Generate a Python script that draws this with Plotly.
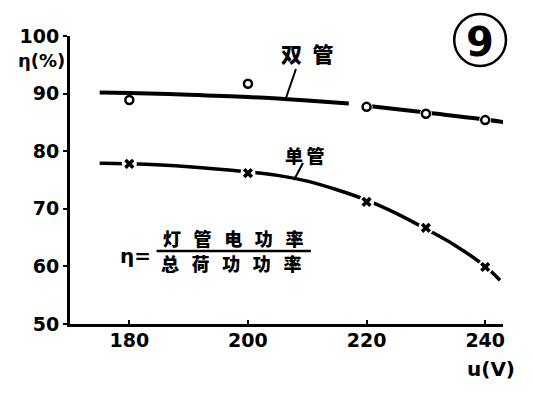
import plotly.graph_objects as go

# ---- data ----
volts = [180, 200, 220, 230, 240]
eff_double = [88.9, 91.7, 87.7, 86.5, 85.4]
eff_single = [77.8, 76.2, 71.2, 66.7, 59.9]

curve_double_x = [175, 180, 190, 200, 210, 217, None, 220, 230, 240, 244]
curve_double_y = [90.2, 90.1, 89.8, 89.4, 88.8, 88.3, None, 87.9, 86.7, 85.5, 84.9]

curve_single_x = [175, 180, 190, 200, 205, 210, 215, 220, 225, 230, 235, 240, 242.5]
curve_single_y = [77.9, 77.8, 77.3, 76.4, 75.8, 74.8, 73.3, 71.5, 69.2, 66.5, 63.6, 60.0, 57.6]

x_ticks = [180, 200, 220, 240]
y_ticks = [50, 60, 70, 80, 90, 100]

# page body adds an 8px offset; work in target-image pixels
OFF = 8
W, H = 533, 394
L, T = 68 - OFF, 36 - OFF
R = W - (503 - OFF)
B = H - (324 - OFF)
PW, PH = W - L - R, H - T - B


def px(x):
    return (x - OFF - L) / PW


def py(y):
    return (H - B - (y - OFF)) / PH


NUM = "DejaVu Sans"
CJK = "Noto Sans CJK SC"

fig = go.Figure()

# curves
fig.add_trace(go.Scatter(x=curve_double_x, y=curve_double_y, mode="lines",
                         line=dict(color="black", width=4, shape="spline"),
                         connectgaps=False, hoverinfo="skip"))
fig.add_trace(go.Scatter(x=curve_single_x, y=curve_single_y, mode="lines",
                         line=dict(color="black", width=3.5, shape="spline"),
                         hoverinfo="skip"))
# white gaps around markers
fig.add_trace(go.Scatter(x=volts, y=eff_single, mode="markers",
                         marker=dict(symbol="circle", size=15, color="white",
                                     line=dict(width=0)), hoverinfo="skip"))
fig.add_trace(go.Scatter(x=volts[2:], y=eff_double[2:], mode="markers",
                         marker=dict(symbol="circle", size=12, color="white",
                                     line=dict(width=0)), hoverinfo="skip"))
# markers
fig.add_trace(go.Scatter(x=volts, y=eff_double, mode="markers",
                         marker=dict(symbol="circle", size=8, color="white",
                                     line=dict(color="black", width=2.5))))
fig.add_trace(go.Scatter(x=volts, y=eff_single, mode="markers",
                         marker=dict(symbol="x", size=9, color="black",
                                     line=dict(width=0))))

ann = []
def add_text(text, x, y, size, family=NUM, weight="bold"):
    ann.append(dict(text=text, x=px(x), y=py(y), xref="paper", yref="paper",
                    showarrow=False, xanchor="center", yanchor="middle",
                    font=dict(family=family, size=size, color="black", weight=weight)))

add_text("η(%)", 39, 60, 18)
add_text("u(V)", 491, 369, 20)
add_text("双\u2002管", 307, 53, 21, CJK, 900)
add_text("单\u2009管", 304, 155, 18, CJK, 900)
add_text("η=", 134, 256, 20)
sep = "\u2002\u2009"
add_text(sep.join("灯管电功率"), 232, 238, 18, CJK, 900)
add_text(sep.join("总荷功功率"), 230, 263, 18, CJK, 900)
add_text("9", 480, 42, 40, NUM, "bold")

shapes = []
def seg(x0, y0, x1, y1, w=2):
    shapes.append(dict(type="line", xref="paper", yref="paper",
                       x0=px(x0), y0=py(y0), x1=px(x1), y1=py(y1),
                       line=dict(color="black", width=w)))

seg(295, 69, 285, 98)
seg(302, 163, 293, 180)
seg(155, 251, 310, 251, 2.5)
shapes.append(dict(type="circle", xref="paper", yref="paper",
                   x0=px(454), x1=px(506), y0=py(66), y1=py(14),
                   line=dict(color="black", width=2.5)))

fig.update_layout(
    width=W, height=H,
    margin=dict(l=L, r=R, t=T, b=B, pad=0),
    paper_bgcolor="white", plot_bgcolor="white",
    showlegend=False,
    annotations=ann, shapes=shapes,
    xaxis=dict(range=[170, 243], tickvals=x_ticks, showgrid=False, zeroline=False,
               showline=True, linecolor="black", linewidth=3,
               ticks="inside", ticklen=4, tickwidth=2, tickcolor="black",
               ticklabelstandoff=-3,
               tickfont=dict(family=NUM, size=19, color="black", weight="bold")),
    yaxis=dict(range=[50, 100], tickvals=y_ticks, showgrid=False, zeroline=False,
               showline=True, linecolor="black", linewidth=3,
               ticks="outside", ticklen=4, tickwidth=2, tickcolor="black",
               tickfont=dict(family=NUM, size=19, color="black", weight="bold")),
)

fig.write_html("out.html")
